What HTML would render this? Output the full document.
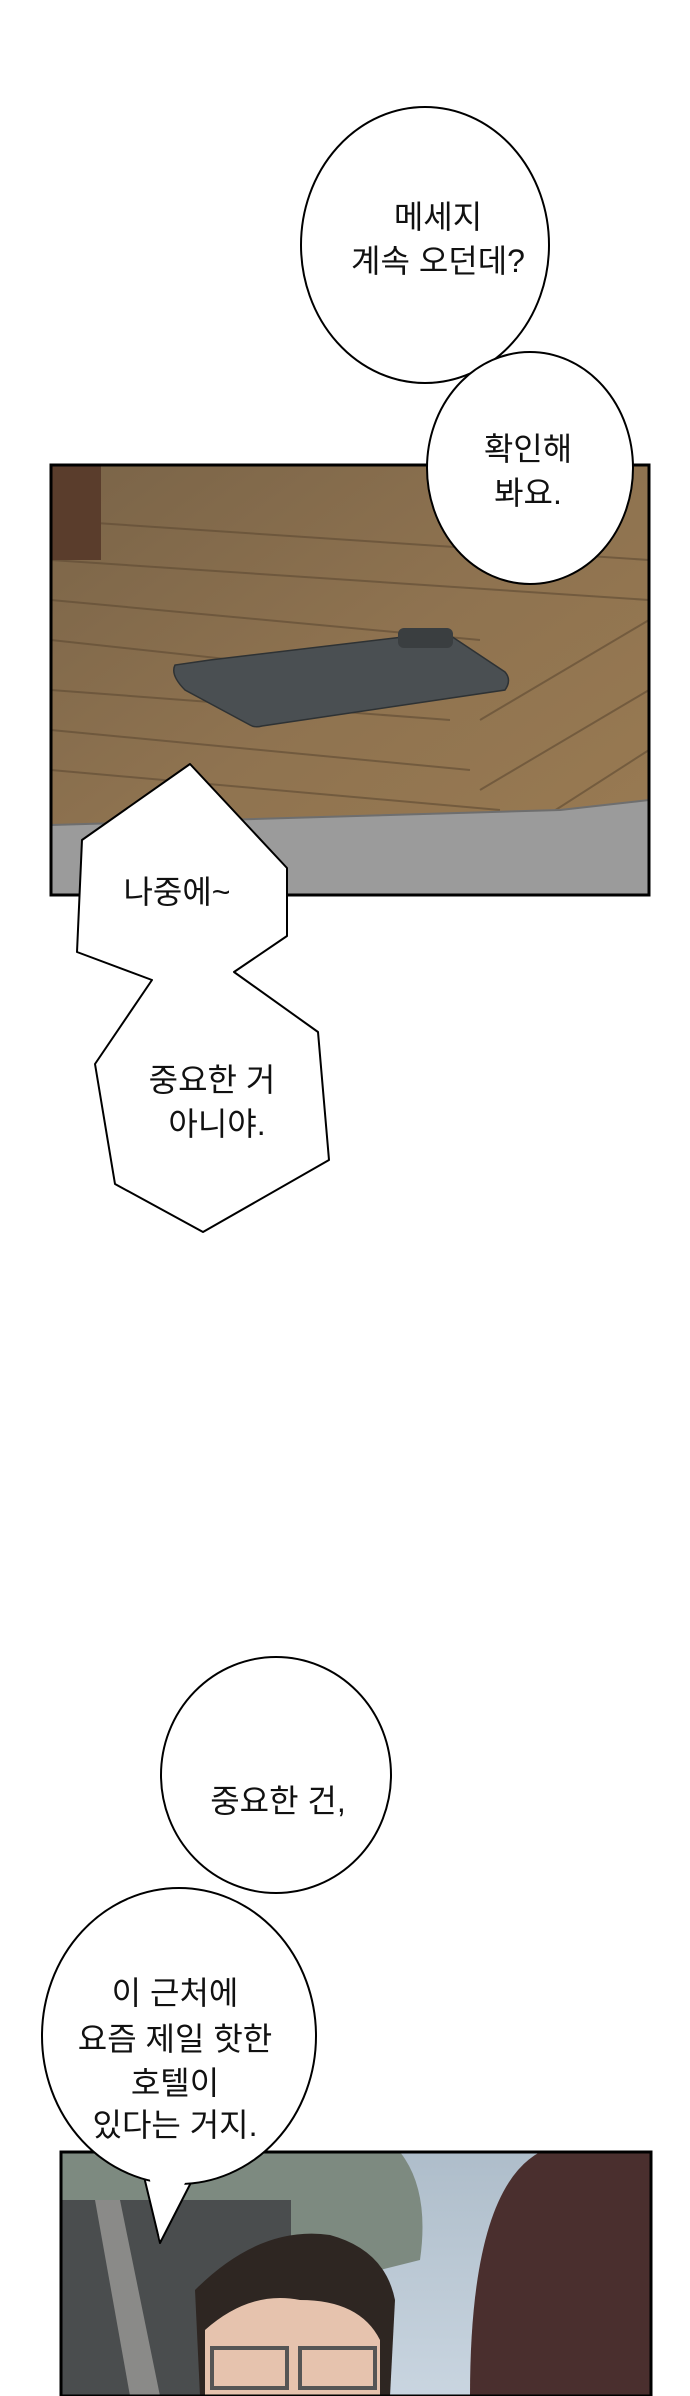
<!DOCTYPE html>
<html><head><meta charset="utf-8"><style>
html,body{margin:0;padding:0;background:#fff;}
svg{display:block;}
text{font-family:"Liberation Sans","Noto Sans CJK KR",sans-serif;font-size:32px;fill:#111;text-anchor:middle;}
</style></head><body>
<svg width="690" height="2396" viewBox="0 0 690 2396" xmlns="http://www.w3.org/2000/svg">
<defs>
<linearGradient id="wood" x1="0" y1="0" x2="1" y2="1">
<stop offset="0" stop-color="#7a6448"/><stop offset="0.5" stop-color="#8f7350"/><stop offset="1" stop-color="#9a7b52"/></linearGradient>
<linearGradient id="sky" x1="0" y1="0" x2="0" y2="1">
<stop offset="0" stop-color="#aebdca"/><stop offset="1" stop-color="#c9d5e0"/></linearGradient>
</defs>
<!-- Panel 1 -->
<rect x="51" y="465" width="598" height="430" fill="url(#wood)"/>
<g stroke="#5e4a33" stroke-width="2" opacity="0.6">
<line x1="51" y1="520" x2="649" y2="560"/><line x1="51" y1="560" x2="649" y2="600"/>
<line x1="51" y1="600" x2="480" y2="640"/><line x1="51" y1="640" x2="420" y2="680"/>
<line x1="51" y1="690" x2="450" y2="720"/><line x1="51" y1="730" x2="470" y2="770"/>
<line x1="51" y1="770" x2="500" y2="810"/><line x1="649" y1="620" x2="480" y2="720"/>
<line x1="649" y1="690" x2="480" y2="790"/><line x1="649" y1="750" x2="540" y2="820"/>
</g>
<rect x="51" y="465" width="50" height="95" fill="#5a3d2c"/>
<path d="M51 825 L560 810 L649 800 L649 895 L51 895 Z" fill="#9b9b9b"/>
<path d="M51 825 L560 810 L649 800" fill="none" stroke="#6e6e6e" stroke-width="2"/>
<path d="M175 665 Q170 675 185 690 L250 725 Q255 728 262 726 L505 690 Q512 680 505 672 L445 632 L210 660 Z" fill="#4a4f52" stroke="#2e3234" stroke-width="1.5"/>
<rect x="398" y="628" width="55" height="20" rx="6" fill="#3a3e40"/>
<rect x="51" y="465" width="598" height="430" fill="none" stroke="#000" stroke-width="3"/>
<!-- Bubble 1 & 2 -->
<ellipse cx="425" cy="245" rx="124" ry="138" fill="#fff" stroke="#000" stroke-width="2"/>
<ellipse cx="530" cy="468" rx="103" ry="116" fill="#fff" stroke="#000" stroke-width="2"/>
<text x="438" y="228">메세지</text>
<text x="438" y="272">계속 오던데?</text>
<text x="528" y="460">확인해</text>
<text x="528" y="504">봐요.</text>
<!-- Jagged bubble -->
<polygon points="190,764 287,868 287,936 234,972 318,1032 329,1160 203,1232 115,1184 95,1064 152,980 77,952 82,840" fill="#fff" stroke="#000" stroke-width="2" stroke-linejoin="round"/>
<text x="177" y="903">나중에~</text>
<text x="212" y="1091">중요한 거</text>
<text x="217" y="1135">아니야.</text>
<!-- Panel 2 -->
<rect x="61" y="2152" width="590" height="244" fill="url(#sky)"/>
<path d="M61 2152 L400 2152 Q430 2190 420 2260 L300 2290 L200 2260 L61 2300 Z" fill="#7d8a80"/>
<rect x="61" y="2200" width="230" height="196" fill="#4a4d4e"/>
<path d="M95 2200 L130 2396 L160 2396 L120 2200 Z" fill="#8a8a88"/>
<path d="M200 2396 L195 2290 Q260 2225 330 2235 Q385 2250 395 2300 L390 2396 Z" fill="#2e2622"/>
<path d="M205 2396 L205 2330 Q250 2290 300 2300 Q360 2300 380 2340 L380 2396 Z" fill="#e6c3ae"/>
<rect x="212" y="2348" width="75" height="40" fill="none" stroke="#555" stroke-width="4"/>
<rect x="300" y="2348" width="75" height="40" fill="none" stroke="#555" stroke-width="4"/>
<path d="M470 2396 Q470 2190 540 2152 L651 2152 L651 2396 Z" fill="#4a2f2e"/>
<rect x="61" y="2152" width="590" height="244" fill="none" stroke="#000" stroke-width="3"/>
<!-- Bubble 3 & 4 -->
<ellipse cx="276" cy="1775" rx="115" ry="118" fill="#fff" stroke="#000" stroke-width="2"/>
<polygon points="140,2160 160,2243 200,2165" fill="#fff" stroke="#000" stroke-width="2" stroke-linejoin="round"/>
<ellipse cx="179" cy="2036" rx="137" ry="148" fill="#fff" stroke="#000" stroke-width="2"/>
<polygon points="145,2150 160,2240 195,2160" fill="#fff"/>
<text x="278" y="1812">중요한 건,</text>
<text x="175" y="2004">이 근처에</text>
<text x="175" y="2050">요즘 제일 핫한</text>
<text x="175" y="2094">호텔이</text>
<text x="175" y="2136">있다는 거지.</text>
</svg>
</body></html>
